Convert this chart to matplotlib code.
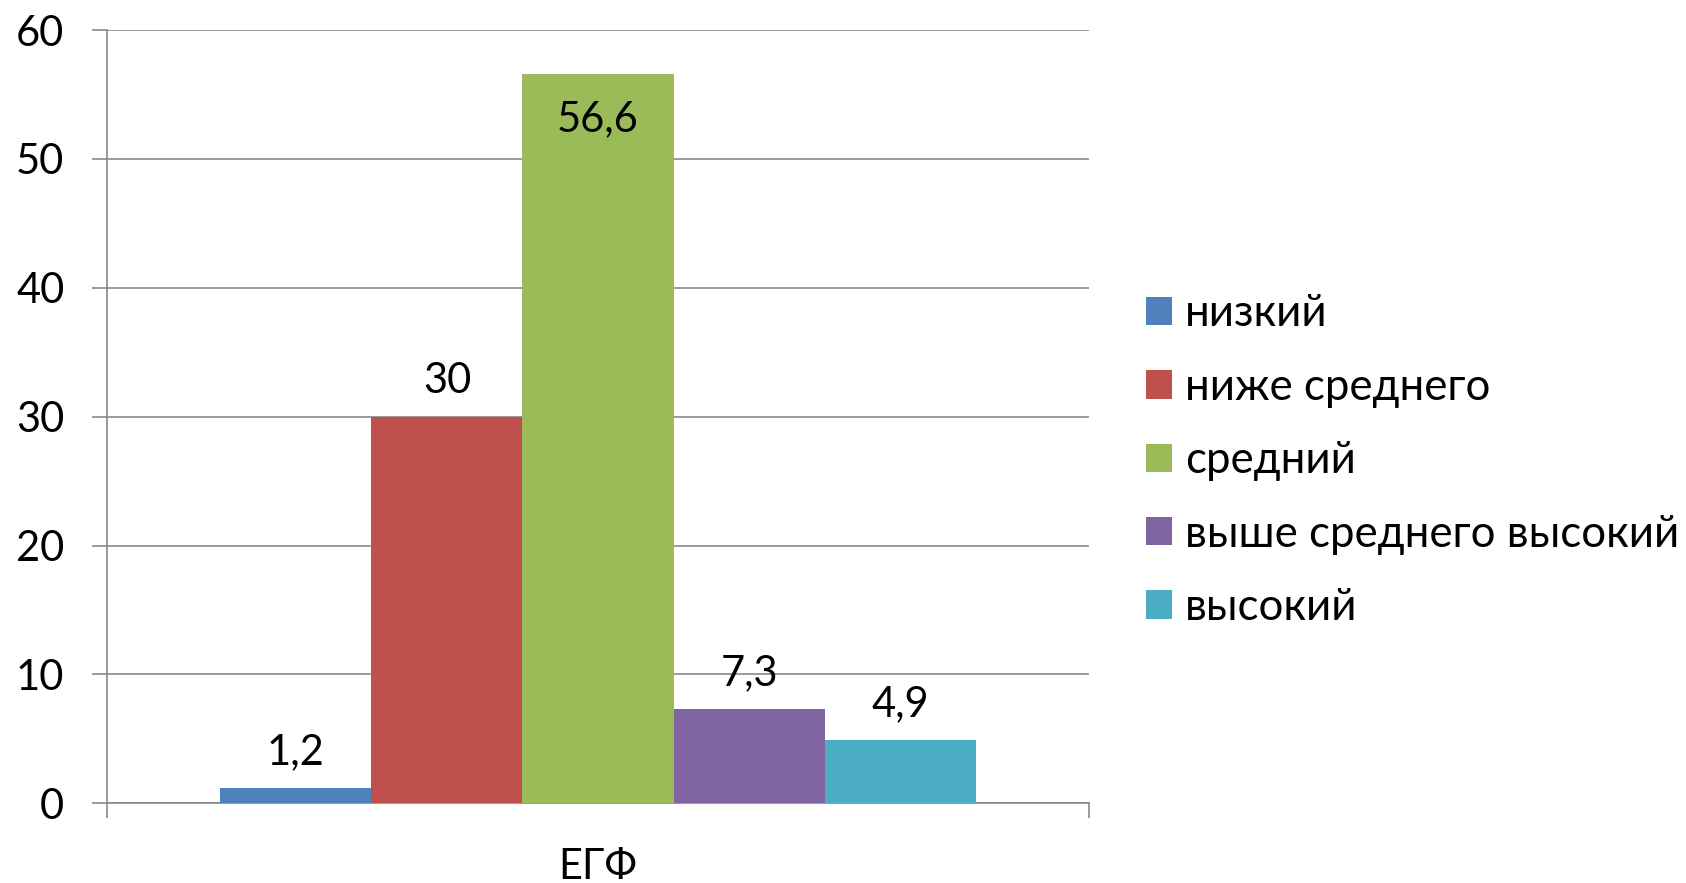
import matplotlib
matplotlib.use("Agg")
import matplotlib.pyplot as plt
from matplotlib.patches import Patch

plt.rcParams['font.family'] = ['Lato', 'DejaVu Sans']

category = 'ЕГФ'
levels = ['низкий', 'ниже среднего', 'средний', 'выше среднего высокий', 'высокий']
values = [1.2, 30, 56.6, 7.3, 4.9]
value_labels = ['1,2', '30', '56,6', '7,3', '4,9']
colors = ['#4F81BD', '#C0504D', '#9BBB59', '#8064A2', '#4BACC6']

grid_col = '#898989'
fs = 30
leg_fs = 31.5

fig = plt.figure(figsize=(16.86, 8.83), dpi=100)
ax = fig.add_axes([107 / 1686, 1 - 803.3 / 883, (1089 - 107) / 1686, (803.3 - 30) / 883])

# excel-style cluster: gap width 150%
n = len(values)
w = 1 / (n + 1.5)
for i, (v, c) in enumerate(zip(values, colors)):
    x = (i - (n - 1) / 2) * w
    ax.bar(x, v, width=w, color=c, zorder=3)
    if v > 50:
        ax.annotate(value_labels[i], (x, v), xytext=(0, -33), textcoords='offset points',
                    ha='center', va='center', fontsize=fs, zorder=4)
    else:
        ax.annotate(value_labels[i], (x, v), xytext=(0, 26), textcoords='offset points',
                    ha='center', va='center', fontsize=fs, zorder=4)

ax.set_xlim(-0.5, 0.5)
ax.set_ylim(0, 60)
ax.set_yticks(range(0, 61, 10))
ax.yaxis.grid(True, color=grid_col, linewidth=1.2, zorder=0)
ax.set_axisbelow(True)

ax.set_xticks([0])
ax.set_xticklabels([category])
ax.set_xticks([-0.5, 0.5], minor=True)
ax.tick_params(axis='x', which='major', length=0, pad=32, labelsize=fs)
ax.tick_params(axis='x', which='minor', length=10.8, width=1.2, color=grid_col, direction='out')
ax.tick_params(axis='y', length=10.8, width=1.2, color=grid_col, direction='out', pad=20, labelsize=fs)

for s in ['top', 'right']:
    ax.spines[s].set_visible(False)
for s in ['left', 'bottom']:
    ax.spines[s].set_color(grid_col)
    ax.spines[s].set_linewidth(1.2)

handles = [Patch(facecolor=c, edgecolor='none') for c in colors]
fig.legend(handles, levels, loc='center left', bbox_to_anchor=(1146 / 1686, 1 - 460.7 / 883),
           frameon=False, fontsize=leg_fs, handlelength=0.6, handleheight=0.62,
           handletextpad=0.3, labelspacing=0.74, borderpad=0, borderaxespad=0)

fig.savefig('out.png', dpi=100)
